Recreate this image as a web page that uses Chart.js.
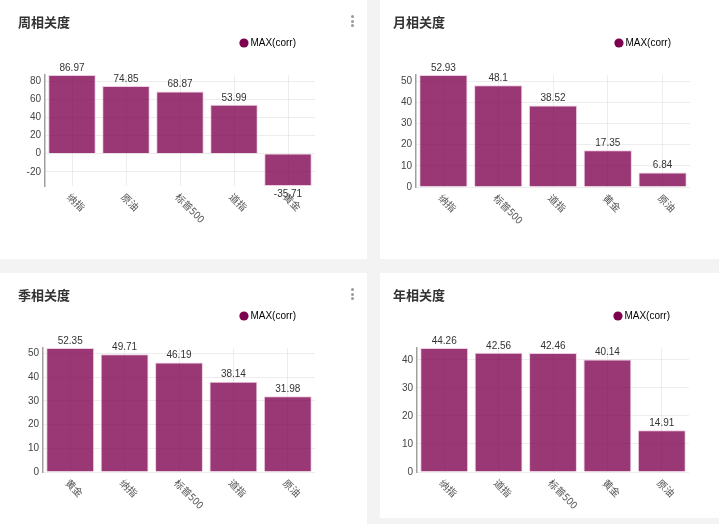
<!DOCTYPE html>
<html>
<head>
<meta charset="utf-8">
<script src="https://cdn.jsdelivr.net/npm/chart.js@4.4.0/dist/chart.umd.min.js"></script>
<style>
html, body { margin: 0; padding: 0; background: #f3f3f3; }
body { width: 719px; height: 524px; position: relative; overflow: hidden; }
.panel { position: absolute; background: #fff; }
.panel canvas { position: absolute; left: 0; top: 0; }
.menu { position: absolute; width: 3px; }
.menu i { display: block; width: 3px; height: 3px; border-radius: 50%; background: #999; margin-bottom: 1.5px; }
</style>
</head>
<body>
<div class="panel" style="left:0;top:0;width:367px;height:259px">
  <canvas id="weekChart" width="367" height="259"></canvas>
  <div class="menu" style="left:351px;top:15px"><i></i><i></i><i></i></div>
</div>
<div class="panel" style="left:380px;top:0;width:339px;height:259px">
  <canvas id="monthChart" width="339" height="259"></canvas>
</div>
<div class="panel" style="left:0;top:273px;width:367px;height:251px">
  <canvas id="quarterChart" width="367" height="251"></canvas>
  <div class="menu" style="left:351px;top:15px"><i></i><i></i><i></i></div>
</div>
<div class="panel" style="left:380px;top:273px;width:339px;height:245px">
  <canvas id="yearChart" width="339" height="245"></canvas>
</div>
<script>
const seriesName = 'MAX(corr)';

const weekLabels = ['纳指', '原油', '标普500', '道指', '黄金'];
const weekValues = [86.97, 74.85, 68.87, 53.99, -35.71];

const monthLabels = ['纳指', '标普500', '道指', '黄金', '原油'];
const monthValues = [52.93, 48.1, 38.52, 17.35, 6.84];

const quarterLabels = ['黄金', '纳指', '标普500', '道指', '原油'];
const quarterValues = [52.35, 49.71, 46.19, 38.14, 31.98];

const yearLabels = ['纳指', '道指', '标普500', '黄金', '原油'];
const yearValues = [44.26, 42.56, 42.46, 40.14, 14.91];

const latin = "'Liberation Sans', Arial, sans-serif";
const cjk = "'Noto Sans CJK SC', 'Liberation Sans', sans-serif";

// adds some room between the legend and the plot
const legendGap = {
    id: 'legendGap',
    beforeInit(chart) {
        const fit = chart.legend.fit;
        chart.legend.fit = function () {
            fit.call(this);
            this.height += 17;
        };
    }
};

// value labels above (or below) each bar
const valueLabels = {
    id: 'valueLabels',
    afterDatasetsDraw(chart) {
        const ctx = chart.ctx;
        const values = chart.data.datasets[0].data;
        ctx.save();
        ctx.font = '10px ' + latin;
        ctx.fillStyle = '#333';
        ctx.textAlign = 'center';
        chart.getDatasetMeta(0).data.forEach((bar, i) => {
            const v = values[i];
            if (v >= 0) {
                ctx.textBaseline = 'bottom';
                ctx.fillText(String(v), bar.x, bar.y - 2);
            } else {
                ctx.textBaseline = 'top';
                ctx.fillText(String(v), bar.x, bar.y + 3);
            }
        });
        ctx.restore();
    }
};

// category labels slanting down to the right from each tick
const slantLabels = {
    id: 'slantLabels',
    afterDraw(chart) {
        const ctx = chart.ctx;
        const xScale = chart.scales.x;
        const bottom = chart.chartArea.bottom;
        ctx.save();
        ctx.font = '10px ' + cjk;
        ctx.fillStyle = '#555';
        ctx.textAlign = 'left';
        ctx.textBaseline = 'middle';
        chart.data.labels.forEach((label, i) => {
            const x = xScale.getPixelForTick(i);
            ctx.save();
            ctx.translate(x - 3, bottom + 9);
            ctx.rotate(Math.PI / 4);
            ctx.fillText(label, 0, 0);
            ctx.restore();
        });
        ctx.restore();
    }
};

function drawChart(id, title, labels, values, stepSize, box) {
    new Chart(document.getElementById(id), {
        type: 'bar',
        data: {
            labels: labels,
            datasets: [{
                label: seriesName,
                data: values,
                backgroundColor: 'rgba(125, 0, 78, 0.78)',
                borderColor: 'rgba(235, 200, 222, 0.9)',
                borderWidth: 1,
                categoryPercentage: 1,
                barPercentage: 0.88
            }]
        },
        options: {
            responsive: false,
            animation: false,
            events: [],
            layout: {
                padding: { left: box.left, right: box.right, bottom: box.bottom, top: 0 }
            },
            scales: {
                x: {
                    grid: { color: 'rgba(0,0,0,0.07)', offset: false, drawTicks: false },
                    border: { display: false },
                    ticks: { display: false }
                },
                y: {
                    min: Math.min(0, ...values),
                    max: Math.max(...values),
                    grid: { color: 'rgba(0,0,0,0.07)', drawTicks: false },
                    border: { display: true, color: '#a0a0a0', width: 1.5 },
                    ticks: {
                        stepSize: stepSize,
                        includeBounds: false,
                        padding: 4,
                        color: '#444',
                        font: { size: 10, family: latin }
                    },
                    afterFit(scale) { scale.width = box.yWidth; }
                }
            },
            plugins: {
                title: {
                    display: true,
                    text: title,
                    align: 'start',
                    color: '#333',
                    font: { size: 13, weight: 'bold', family: cjk },
                    padding: { top: 14.2, bottom: -10.8 }
                },
                legend: {
                    display: true,
                    position: 'top',
                    align: 'end',
                    labels: {
                        usePointStyle: true,
                        pointStyle: 'circle',
                        boxWidth: 3,
                        boxHeight: 6.5,
                        padding: 19,
                        color: '#333',
                        font: { size: 10, family: latin },
                        generateLabels() {
                            return [{
                                text: seriesName,
                                fillStyle: '#7d004e',
                                strokeStyle: '#7d004e',
                                lineWidth: 0,
                                pointStyle: 'circle',
                                datasetIndex: 0
                            }];
                        }
                    }
                },
                tooltip: { enabled: false }
            }
        },
        plugins: [legendGap, valueLabels, slantLabels]
    });
}

drawChart('weekChart', '周相关度', weekLabels, weekValues, 20, { left: 18, yWidth: 27, right: 52, bottom: 73 });
drawChart('monthChart', '月相关度', monthLabels, monthValues, 10, { left: 13, yWidth: 23, right: 29, bottom: 72 });
drawChart('quarterChart', '季相关度', quarterLabels, quarterValues, 10, { left: 18, yWidth: 25, right: 52, bottom: 52 });
drawChart('yearChart', '年相关度', yearLabels, yearValues, 10, { left: 13, yWidth: 24, right: 30, bottom: 46 });
</script>
</body>
</html>
